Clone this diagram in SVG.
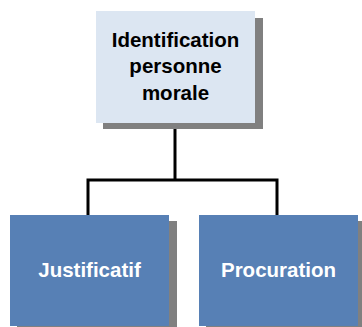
<svg xmlns="http://www.w3.org/2000/svg" width="362" height="327" viewBox="0 0 362 327">
  <style>
    .shadow { fill: #808080; }
    .top { fill: #dce6f2; }
    .child { fill: #5780b5; }
    .lbl { font-family: "Liberation Sans", Arial, sans-serif; font-weight: bold; font-size: 20.5px; text-anchor: middle; }
    .dark { fill: #000000; }
    .light { fill: #ffffff; }
    .wire { fill: none; stroke: #000000; stroke-width: 3; stroke-linejoin: miter; }
  </style>
  <rect width="362" height="327" fill="#ffffff"/>

  <g id="connectors">
    <path class="wire" d="M175,123 V180"/>
    <path class="wire" d="M88,216 V180 H277 V216"/>
  </g>

  <g id="node-identification">
    <rect class="shadow" x="103" y="18" width="160" height="111"/>
    <rect class="top" x="96" y="11" width="159" height="112"/>
    <text class="lbl dark" x="175.5" y="47">Identification</text>
    <text class="lbl dark" x="175.5" y="73">personne</text>
    <text class="lbl dark" x="175.5" y="100">morale</text>
  </g>

  <g id="node-justificatif">
    <rect class="shadow" x="17" y="221" width="160" height="112"/>
    <rect class="child" x="10" y="215" width="159" height="111"/>
    <text class="lbl light" x="89.5" y="277">Justificatif</text>
  </g>

  <g id="node-procuration">
    <rect class="shadow" x="206" y="221" width="160" height="112"/>
    <rect class="child" x="199" y="215" width="159" height="111"/>
    <text class="lbl light" x="278.5" y="277">Procuration</text>
  </g>
</svg>
